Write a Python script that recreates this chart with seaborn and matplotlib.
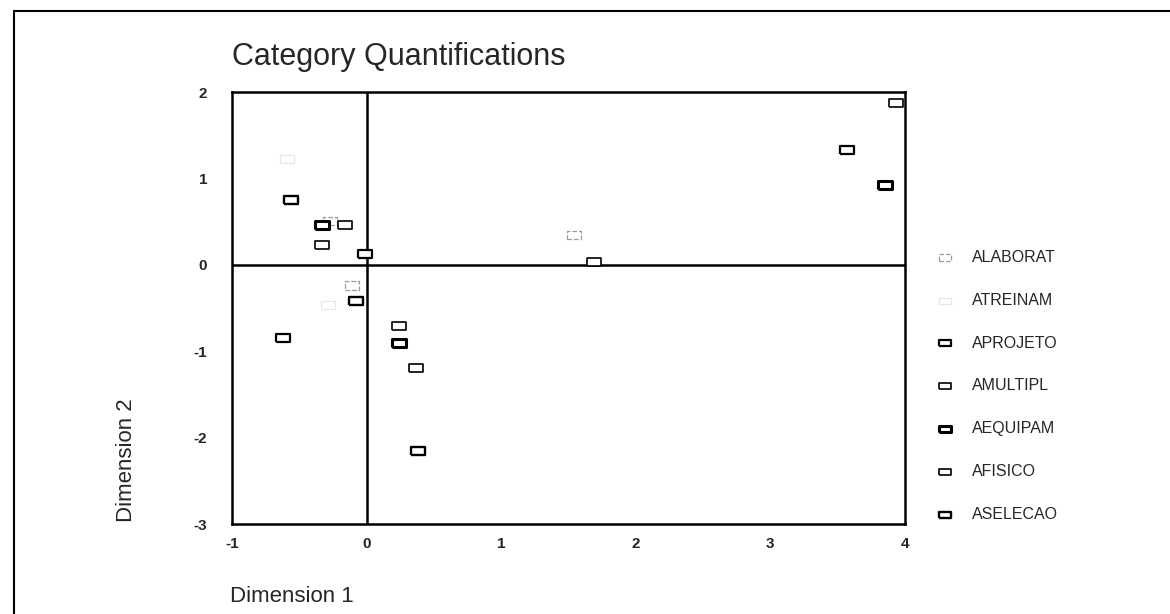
import numpy as np
import pandas as pd
import matplotlib
matplotlib.use('Agg')
import matplotlib.pyplot as plt
from matplotlib.lines import Line2D
import seaborn as sns

#=============================================================================
#Category quantifications (Dimension 1, Dimension 2) per variable, read off
#the scanned SPSS chart.

names = ['ALABORAT', 'ATREINAM', 'APROJETO', 'AMULTIPL',
         'AEQUIPAM', 'AFISICO', 'ASELECAO']

alaborat_x = [-0.27, -0.11, 1.54]
alaborat_y = [0.51, -0.24, 0.34]

atreinam_x = [-0.59, -0.29]
atreinam_y = [1.23, -0.47]

aprojeto_x = [-0.01, -0.62, 3.57]
aprojeto_y = [0.13, -0.85, 1.33]

amultipl_x = [-0.16, 0.24, 1.69]
amultipl_y = [0.46, -0.71, 0.03]

aequipam_x = [-0.33, 0.24, 3.85]
aequipam_y = [0.46, -0.91, 0.92]

afisico_x = [-0.33, 0.37, 3.93]
afisico_y = [0.23, -1.19, 1.87]

aselecao_x = [-0.56, -0.08, 0.38]
aselecao_y = [0.75, -0.42, -2.16]

xticks = [-1, 0, 1, 2, 3, 4]
yticks = [-3, -2, -1, 0, 1, 2]

#=============================================================================
#Build one long table for seaborn.
xs = [alaborat_x, atreinam_x, aprojeto_x, amultipl_x,
      aequipam_x, afisico_x, aselecao_x]
ys = [alaborat_y, atreinam_y, aprojeto_y, amultipl_y,
      aequipam_y, afisico_y, aselecao_y]

df = pd.concat([pd.DataFrame({'var': n, 'dim1': x, 'dim2': y})
                for n, x, y in zip(names, xs, ys)], ignore_index=True)

#Edge colour / width per variable (the scan shows faint and bold boxes).
edge = {'ALABORAT': '#9a9a9a', 'ATREINAM': '#e6e6e6', 'APROJETO': 'k',
        'AMULTIPL': 'k', 'AEQUIPAM': 'k', 'AFISICO': 'k', 'ASELECAO': 'k'}
lw = {'ALABORAT': 0.9, 'ATREINAM': 0.8, 'APROJETO': 1.6,
      'AMULTIPL': 1.2, 'AEQUIPAM': 2.2, 'AFISICO': 1.2, 'ASELECAO': 1.7}

#Flat rectangle marker.
box = [(-1, -0.6), (1, -0.6), (1, 0.6), (-1, 0.6), (-1, -0.6)]

#=============================================================================
sns.set_style('white')
plt.rcParams['font.family'] = ['Liberation Sans', 'DejaVu Sans']

fig = plt.figure(figsize=(11.7, 6.14), dpi=100)
ax = fig.add_axes([232/1170, 1 - 524/614, (905 - 232)/1170, (524 - 92)/614])

for n in names:
    sub = df[df['var'] == n]
    sns.scatterplot(x='dim1', y='dim2', data=sub, ax=ax, marker=box, s=95,
                    color='white', edgecolor=edge[n], linewidth=lw[n],
                    label=n, zorder=3,
                    linestyle='--' if n == 'ALABORAT' else '-')

ax.axhline(0, color='k', lw=1.8, zorder=2)
ax.axvline(0, color='k', lw=1.8, zorder=2)

ax.set_xlim(-1, 4)
ax.set_ylim(-3, 2)
ax.set_xticks(xticks)
ax.set_yticks(yticks)
ax.set_xticklabels([str(t) for t in xticks], fontsize=11, fontweight='bold')
ax.set_yticklabels([str(t) for t in yticks], fontsize=11, fontweight='bold')
ax.tick_params('both', direction='out', length=4, width=3, color='k', pad=5)
ax.tick_params('y', pad=14)
for s in ax.spines.values():
    s.set_color('k')
    s.set_linewidth(1.8)

ax.set_xlabel('')
ax.set_ylabel('')
fig.text(230/1170, 1 - 602/614, 'Dimension 1', fontsize=16, ha='left',
         va='baseline')
fig.text(137/1170, 1 - 460/614, 'Dimension 2', fontsize=16, rotation=90,
         ha='right', va='center')
fig.text(232/1170, 1 - 65/614, 'Category Quantifications', fontsize=22,
         ha='left', va='baseline')

ax.legend(frameon=False, loc='upper left',
          bbox_to_anchor=(937/1170, 1 - 250/614),
          bbox_transform=fig.transFigure, fontsize=11.5, labelspacing=1.74,
          handlelength=1.0, handletextpad=1.2, borderpad=0,
          borderaxespad=0, markerscale=0.85)

#Outer frame of the original output window (left and top edges).
fig.add_artist(Line2D([14/1170, 14/1170], [0, 1 - 11/614],
                      transform=fig.transFigure, color='k', lw=1.5))
fig.add_artist(Line2D([14/1170, 1], [1 - 11/614, 1 - 11/614],
                      transform=fig.transFigure, color='k', lw=1.5))

plt.savefig('out.png', dpi=100)
